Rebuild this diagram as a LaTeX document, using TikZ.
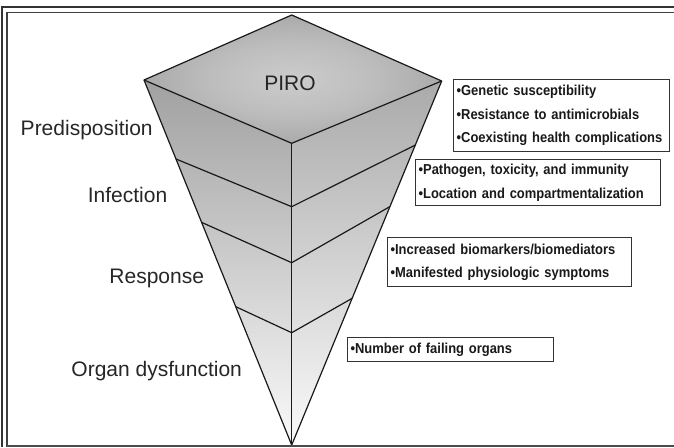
\documentclass[tikz,border=0pt]{standalone}
\usepackage{fontspec}
\setmainfont{Liberation Sans}
\newfontfamily\boxfont[FakeStretch=0.9]{Liberation Sans}
\usetikzlibrary{calc}
\definecolor{diamedge}{gray}{0.50}
\definecolor{diamcenter}{gray}{0.80}
\definecolor{facetop}{gray}{0.63}
\definecolor{facebot}{gray}{0.98}
\pgfdeclareradialshading{piroshade}{\pgfpoint{0bp}{0bp}}{color(0bp)=(diamcenter); color(14bp)=(diamcenter!80!diamedge); color(50bp)=(diamedge)}
\begin{document}
\begin{tikzpicture}[x=1pt,y=-1pt,
  edge/.style={line width=1.2pt, line join=round, draw=black!90},
  lab/.style={font=\fontsize{21}{25}\selectfont, text=black!85, anchor=base, inner sep=0pt},
  pbox/.style={draw=black!80, line width=1.2pt, font=\boxfont\bfseries\fontsize{14.4}{23.5}\selectfont, align=left, anchor=north west, inner xsep=3pt, inner ysep=0pt, text=black!90}
]
\useasboundingbox (0,0) rectangle (674,447);
% pyramid points
\coordinate (T) at (291.7,15);
\coordinate (L) at (144,80);
\coordinate (R) at (441.7,81);
\coordinate (F) at (291.7,143.3);
\coordinate (B) at (291.7,445);
\coordinate (l1) at ($(L)!0.2164!(B)$);
\coordinate (l2) at ($(L)!0.39!(B)$);
\coordinate (l3) at ($(L)!0.621!(B)$);
\coordinate (r1) at ($(R)!0.176!(B)$);
\coordinate (r2) at ($(R)!0.345!(B)$);
\coordinate (r3) at ($(R)!0.597!(B)$);
\coordinate (c1) at (291.7,206.7);
\coordinate (c2) at (291.7,262.7);
\coordinate (c3) at (291.7,332.7);
% faces
\shade[top color=facetop, bottom color=facebot] (L) -- (F) -- (B) -- cycle;
\shade[top color=facetop!90!white, bottom color=facebot] (F) -- (R) -- (B) -- cycle;
\shade[shading=piroshade] (T) -- (R) -- (F) -- (L) -- cycle;
% edges
\draw[edge] (T) -- (R) -- (B) -- (L) -- cycle;
\draw[edge] (L) -- (F) -- (R);
\draw[edge] (F) -- (B);
\draw[edge] (l1) -- (c1) -- (r1);
\draw[edge] (l2) -- (c2) -- (r2);
\draw[edge] (l3) -- (c3) -- (r3);
% frame
\draw[line width=2pt, black!80] (2,447) -- (2,6.7) -- (674,6.7);
\draw[line width=1.5pt, black!75] (7,447) -- (7,12.5) -- (674,12.5);
\draw[line width=1.5pt, black!70] (7,446) -- (674,446);
% labels
\node[lab] (piro) at (290,90.7) {PIRO};
\node[lab] (pred) at (86.7,135) {Predisposition};
\node[lab] (inf) at (127.5,202.7) {Infection};
\node[lab] (resp) at (156.7,283.3) {Response};
\node[lab] (org) at (156.7,376.7) {Organ dysfunction};
% boxes
\node[pbox, text width=210pt, minimum height=72pt] (b1) at (453,79) {\textbullet Genetic susceptibility\\\textbullet Resistance to antimicrobials\\\textbullet Coexisting health complications};
\node[pbox, text width=239pt, minimum height=46pt] (b2) at (415,159) {\textbullet Pathogen, toxicity, and immunity\\\textbullet Location and compartmentalization};
\node[pbox, text width=238pt, minimum height=49pt] (b3) at (387,237) {\textbullet Increased biomarkers/biomediators\\\textbullet Manifested physiologic symptoms};
\node[pbox, text width=200pt, minimum height=24pt] (b4) at (347,337) {\textbullet Number of failing organs};
\end{tikzpicture}
\end{document}
